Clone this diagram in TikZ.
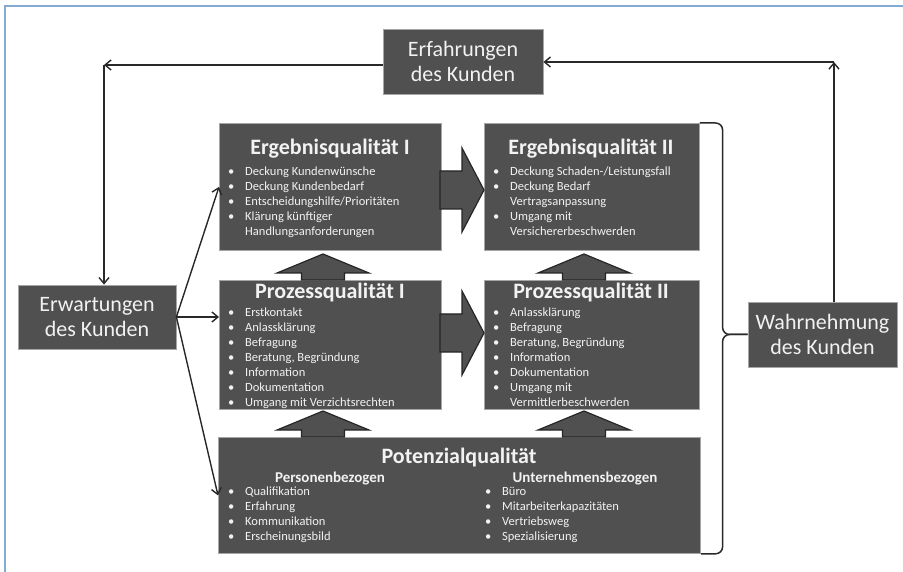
\documentclass[tikz,border=0pt]{standalone}
\usepackage{fontspec}
\setmainfont{Carlito}
\usepackage{tikz}
\usetikzlibrary{arrows.meta}
\definecolor{boxgray}{RGB}{80,80,80}
\definecolor{boxtext}{RGB}{242,242,242}
\definecolor{linegray}{RGB}{40,40,40}
\definecolor{frameblue}{RGB}{130,170,210}
\tikzset{
  qbox/.style={draw=gray!70, line width=0.8pt, fill=boxgray, rectangle, inner sep=0pt, anchor=north west},
  kbox/.style={draw=gray!70, line width=0.8pt, fill=boxgray, rectangle, text=boxtext, align=center,
    font=\fontsize{22}{25}\selectfont},
  qtitle/.style={text=boxtext, font=\bfseries\fontsize{22}{26}\selectfont, anchor=base, inner sep=0pt},
  qsub/.style={text=boxtext, font=\bfseries\fontsize{15}{18}\selectfont, anchor=base, inner sep=0pt},
  qlist/.style={text=boxtext, font=\fontsize{12.5}{15}\selectfont, align=left, anchor=north west, inner sep=0pt},
  fatarrow/.style={fill=boxgray, draw=black!85, line width=1.2pt, line join=miter},
  conn/.style={->, draw=linegray, line width=1.4pt},
  klammer/.style={draw=linegray, line width=1.5pt, rounded corners=7pt},
  fatup/.pic={\path[fatarrow] (0,0) -- (46,19) -- (21.5,19) -- (21.5,26) -- (-21.5,26) -- (-21.5,19) -- (-46,19) -- cycle;},
  fatright/.pic={\path[fatarrow] (0,0) -- (-22,-42) -- (-22,-19) -- (-44,-19) -- (-44,19) -- (-22,19) -- (-22,42) -- cycle;}
}
\newcommand{\bul}{\makebox[17pt][l]{\textbullet}}
\newcommand{\cont}{\hspace*{17pt}}

\begin{document}
\begin{tikzpicture}[x=1pt, y=-1pt, >={Straight Barb[length=6pt,width=10pt]}]
    \useasboundingbox (0,0) rectangle (903,572);
    \draw[frameblue, line width=1.2pt] (5,572) -- (5,6) -- (903,6);

    % Kundensicht
    \node[kbox, minimum width=160pt, minimum height=65pt] (erf) at (463,61.5) {Erfahrungen\\des Kunden};
    \node[kbox, minimum width=158pt, minimum height=64pt] (erw) at (97,317) {Erwartungen\\des Kunden};
    \node[kbox, minimum width=149pt, minimum height=65pt] (wahr) at (822.5,334.5) {Wahrnehmung\\des Kunden};

    % Qualitaetsbloecke
    \node[qbox, minimum width=222pt, minimum height=127pt] (ergI) at (219,123) {};
    \node[qbox, minimum width=215pt, minimum height=127pt] (ergII) at (484,123) {};
    \node[qbox, minimum width=222pt, minimum height=129pt] (prozI) at (219,280) {};
    \node[qbox, minimum width=215pt, minimum height=129pt] (prozII) at (484,280) {};
    \node[qbox, minimum width=482pt, minimum height=116pt] (potz) at (218,437) {};

    \pic at (484,190) {fatright};
    \pic at (484,333) {fatright};
    \pic at (323,254) {fatup};
    \pic at (584,254) {fatup};
    \pic at (323,411) {fatup};
    \pic at (584,411) {fatup};

    \node[qtitle] (ergIt) at (330,155) {Ergebnisqualität I};
    \node[qlist] (ergIl) at (228,167) {\bul Deckung Kundenwünsche\\
      \bul Deckung Kundenbedarf\\
      \bul Entscheidungshilfe/Prioritäten\\
      \bul Klärung künftiger\\
      \cont Handlungsanforderungen};
    \node[qtitle] (ergIIt) at (591,155) {Ergebnisqualität II};
    \node[qlist] (ergIIl) at (493,167) {\bul Deckung Schaden-/Leistungsfall\\
      \bul Deckung Bedarf\\
      \cont Vertragsanpassung\\
      \bul Umgang mit\\
      \cont Versichererbeschwerden};

    \node[qtitle] (prozIt) at (330,299) {Prozessqualität I};
    \node[qlist] (prozIl) at (228,308) {\bul Erstkontakt\\
      \bul Anlassklärung\\
      \bul Befragung\\
      \bul Beratung, Begründung\\
      \bul Information\\
      \bul Dokumentation\\
      \bul Umgang mit Verzichtsrechten};
    \node[qtitle] (prozIIt) at (591,299) {Prozessqualität II};
    \node[qlist] (prozIIl) at (493,308) {\bul Anlassklärung\\
      \bul Befragung\\
      \bul Beratung, Begründung\\
      \bul Information\\
      \bul Dokumentation\\
      \bul Umgang mit\\
      \cont Vermittlerbeschwerden};

    \node[qtitle] (potzt) at (459,463) {Potenzialqualität};
    \node[qsub] (perst) at (330,482) {Personenbezogen};
    \node[qsub] (untt) at (585,482) {Unternehmensbezogen};
    \node[qlist] (persl) at (228,487) {\bul Qualifikation\\
      \bul Erfahrung\\
      \bul Kommunikation\\
      \bul Erscheinungsbild};
    \node[qlist] (untl) at (485,487) {\bul Büro\\
      \bul Mitarbeiterkapazitäten\\
      \bul Vertriebsweg\\
      \bul Spezialisierung};

    % Rueckkopplung
    \coordinate (tl) at (104,65);
    \coordinate (tr) at (834,62);
    \draw[conn] (erf.west |- tl) -- (tl);
    \draw[conn] (tl) -- (tl |- erw.north);
    \draw[conn] (wahr.north -| tr) -- (tr);
    \draw[conn] (tr) -- (erf.east |- tr);

    \draw[conn] (erw.east) -- (ergI.west);
    \draw[conn] (erw.east) -- (erw.east -| prozI.west);
    \draw[conn] (erw.east) -- (potz.west);

    \coordinate (bm) at ([xshift=-25pt]wahr.west);
    \draw[klammer] (ergII.north east) -| (bm) -- (wahr.west);
    \draw[klammer] (wahr.west) -- (bm) |- (potz.south east);
\end{tikzpicture}
\end{document}
